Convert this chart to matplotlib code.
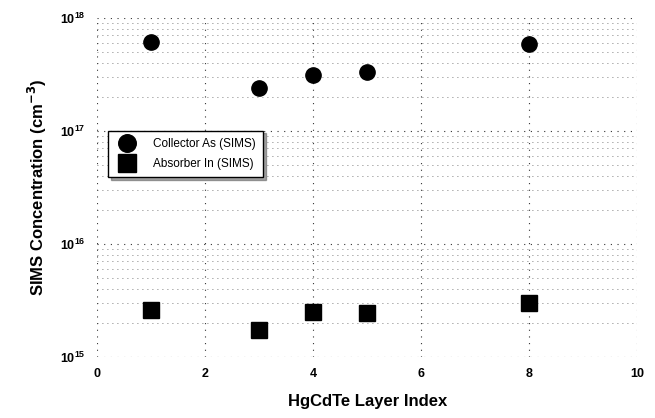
import numpy as np
import matplotlib.pyplot as plt
from matplotlib.ticker import LogLocator, NullFormatter

plt.rcParams['font.family'] = ['Liberation Sans', 'DejaVu Sans']
plt.rcParams['font.weight'] = 'bold'

collector_x = [1, 3, 4, 5, 8]
collector_as = [6.1e17, 2.4e17, 3.1e17, 3.3e17, 5.9e17]
absorber_x = [1, 3, 4, 5, 8]
absorber_in = [2.6e15, 1.75e15, 2.5e15, 2.45e15, 3.0e15]

fig = plt.figure(figsize=(6.55, 4.18), dpi=100)
ax = fig.add_axes([0.148, 0.146, 0.825, 0.811])

ax.plot(collector_x, collector_as, 'o', color='black', markersize=11,
        label='Collector As (SIMS)')
ax.plot(absorber_x, absorber_in, 's', color='black', markersize=11,
        label='Absorber In (SIMS)')

ax.set_yscale('log')
ax.set_xlim(0, 10)
ax.set_ylim(1e15, 1e18)
ax.set_xticks([0, 2, 4, 6, 8, 10])
ax.yaxis.set_major_locator(LogLocator(base=10, numticks=10))
ax.yaxis.set_minor_locator(LogLocator(base=10, subs=np.arange(2, 10), numticks=10))
ax.yaxis.set_minor_formatter(NullFormatter())

dots = (0, (1, 5))
ax.grid(True, which='major', color='#333333', linestyle=dots, linewidth=0.8)
ax.grid(True, which='minor', axis='y', color='#555555', linestyle=dots, linewidth=0.6)
for side in ['top', 'right', 'bottom', 'left']:
    ax.spines[side].set_visible(False)
ax.tick_params(which='both', length=0, labelsize=9, pad=8)
for lbl in ax.get_xticklabels() + ax.get_yticklabels():
    lbl.set_fontweight('bold')

ax.set_xlabel('HgCdTe Layer Index', fontsize=12, fontweight='bold', labelpad=10)
ax.set_ylabel('SIMS Concentration (cm$^{\\mathbf{-3}}$)', fontsize=12,
              fontweight='bold', labelpad=8)

leg = ax.legend(loc='upper left', bbox_to_anchor=(0.01, 0.685),
                prop={'size': 8.5, 'weight': 'normal'},
                frameon=True, shadow=True, fancybox=False, edgecolor='black',
                handletextpad=1.2, borderpad=0.6, labelspacing=0.7,
                markerscale=1.15)
leg.get_frame().set_linewidth(1.0)

fig.savefig('out.png', dpi=100)
